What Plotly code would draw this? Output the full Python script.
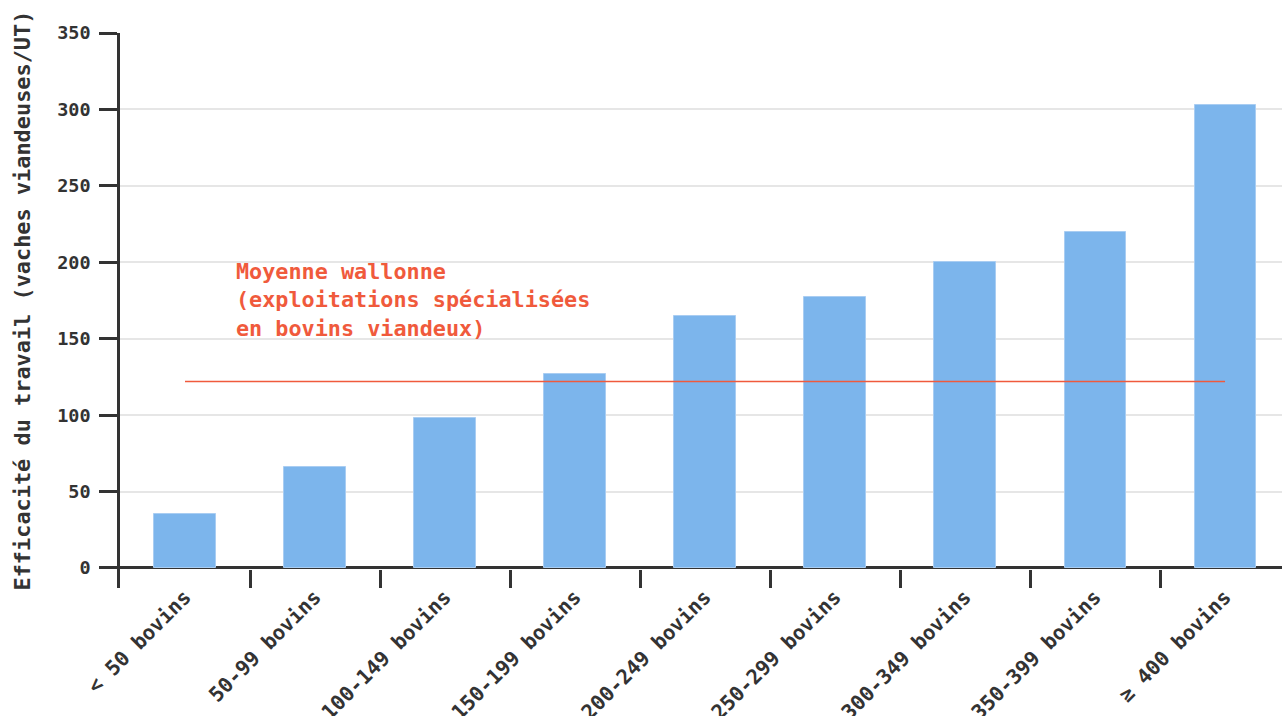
import plotly.graph_objects as go

# Herd-size classes and work efficiency (suckler cows per work unit)
categories = ["< 50 bovins", "50-99 bovins", "100-149 bovins", "150-199 bovins",
              "200-249 bovins", "250-299 bovins", "300-349 bovins", "350-399 bovins",
              "≥ 400 bovins"]
efficiency = [35, 66, 98, 127, 165, 177, 200, 220, 303]
regional_mean = 122
mean_label = "Moyenne wallonne<br>(exploitations spécialisées<br>en bovins viandeux)"
y_title = "Efficacité du travail (vaches viandeuses/UT)"
y_ticks = [0, 50, 100, 150, 200, 250, 300, 350]

FONT = "DejaVu Sans Mono"
TEXT = "#333333"
BAR = "#7cb5ec"
RED = "#f05a3c"

fig = go.Figure()
fig.add_trace(go.Bar(
    x=categories, y=efficiency, width=0.47,
    marker=dict(color=BAR, line=dict(color="#a9cdf2", width=1)),
    hoverinfo="x+y",
))
fig.add_trace(go.Scatter(
    x=[categories[0], categories[-1]], y=[regional_mean, regional_mean],
    mode="lines", line=dict(color=RED, width=1.5), hoverinfo="y",
))

fig.add_annotation(
    text=mean_label, xref="x", yref="y", x=0.375, y=175.5,
    xanchor="left", yanchor="middle", align="left", showarrow=False,
    font=dict(family=FONT, size=21.8, color=RED, weight="bold"),
)
fig.add_annotation(
    text=y_title, xref="paper", yref="y", x=0, y=175, xshift=-98,
    xanchor="center", yanchor="middle", textangle=-90, showarrow=False,
    font=dict(family=FONT, size=21.9, color=TEXT, weight="bold"),
)

fig.update_layout(
    width=1282, height=716,
    margin=dict(l=120, r=0, t=33, b=128),
    paper_bgcolor="white", plot_bgcolor="white",
    showlegend=False, bargap=0,
    font=dict(family=FONT, color=TEXT, size=18, weight="bold"),
)
fig.update_xaxes(
    type="category", range=[-0.5, 8.438], tickson="boundaries", automargin=False,
    ticks="inside", ticklen=18, tickwidth=2.5, tickcolor=TEXT,
    ticklabelstandoff=-8,
    tickangle=-45, tickfont=dict(family=FONT, size=20.5, color=TEXT, weight="bold"),
    showgrid=False, showline=False, zeroline=False,
)
fig.update_yaxes(
    range=[-13.1, 350], tickvals=y_ticks, automargin=False,
    ticks="outside", ticklen=18, tickwidth=2.5, tickcolor=TEXT,
    ticklabelstandoff=5,
    tickfont=dict(family=FONT, size=18.5, color=TEXT, weight="bold"),
    showgrid=True, gridcolor="#e6e6e6", gridwidth=1.5,
    showline=True, linecolor=TEXT, linewidth=2.5,
    zeroline=True, zerolinecolor=TEXT, zerolinewidth=2.5,
)

fig.write_html("out.html")
